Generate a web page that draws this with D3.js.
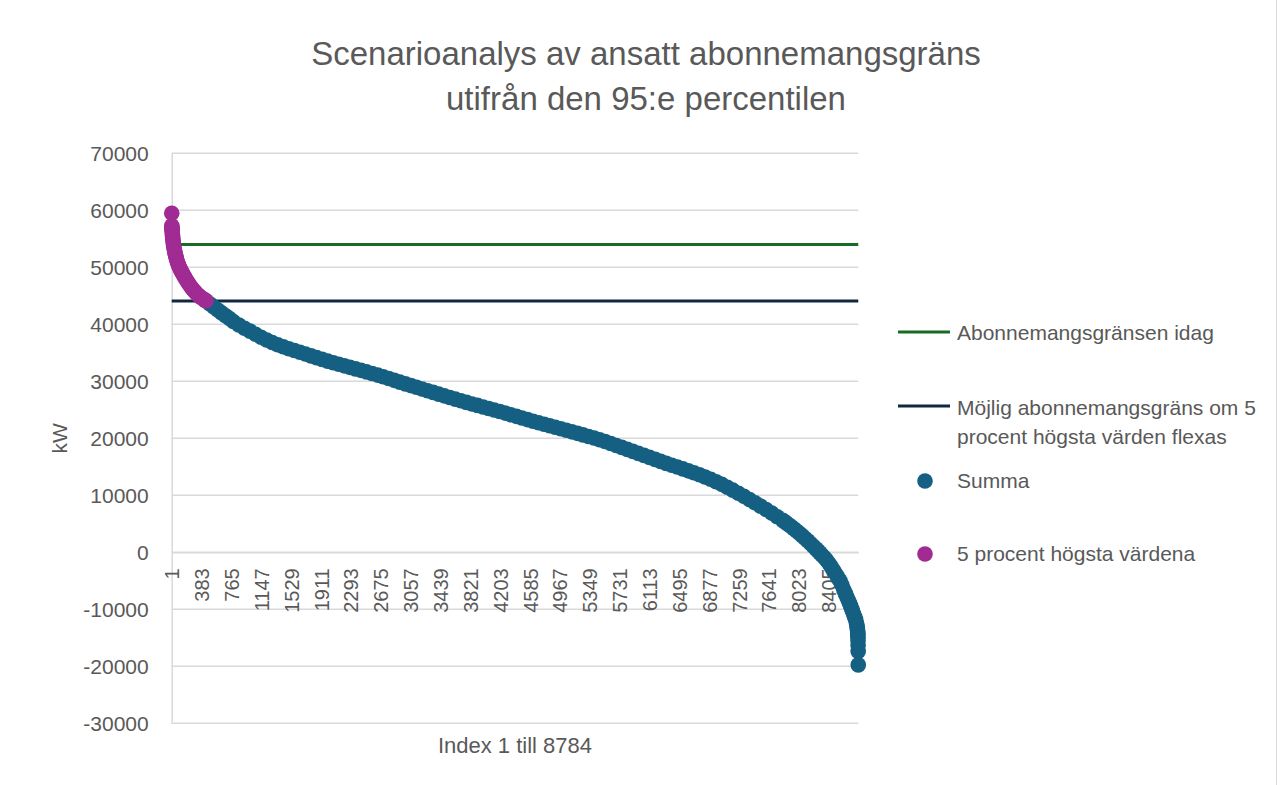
<!DOCTYPE html>
<html>
<head>
<meta charset="utf-8">
<script src="https://cdn.jsdelivr.net/npm/d3@7"></script>
<style>
  html, body { margin: 0; padding: 0; background: #ffffff; }
  svg { display: block; font-family: "Liberation Sans", Arial, sans-serif; }
</style>
</head>
<body>
<svg id="chart" width="1283" height="785"></svg>
<script>
// ---------- data ----------
const titleLines = ["Scenarioanalys av ansatt abonnemangsgräns", "utifrån den 95:e percentilen"];
const yTicks = [-30000, -20000, -10000, 0, 10000, 20000, 30000, 40000, 50000, 60000, 70000];
const xTickLabels = [1, 383, 765, 1147, 1529, 1911, 2293, 2675, 3057, 3439, 3821, 4203, 4585, 4967, 5349, 5731, 6113, 6495, 6877, 7259, 7641, 8023, 8405];
const nIndex = 8784;
const seriesNames = ["Abonnemangsgränsen idag", "Möjlig abonnemangsgräns om 5 procent högsta värden flexas", "Summa", "5 procent högsta värdena"];

// horizontal limit lines (kW)
const abonnemangIdag = 54000;
const mojligGrans = 44100;

// [index, kW] – the 5 % highest values
const hogsta5 = [
  [1,59470],[2,57300],[3,57000],[4,56800],[5,56600],[6,56400],[8,56000],[10,55650],[12,55350],[15,54950],
  [18,54600],[21,54250],[25,53850],[29,53500],[33,53200],[38,52850],[43,52500],[49,52150],[55,51800],[62,51450],
  [70,51050],[78,50750],[87,50400],[96,50100],[106,49800],[117,49500],[128,49200],[140,48900],[153,48550],[167,48250],
  [182,47900],[198,47550],[215,47200],[233,46800],[252,46450],[272,46100],[293,45800],[315,45450],[338,45150],[362,44850],
  [387,44600],[413,44350],[439,44150]
];

// [index, kW] – Summa (remaining sorted load curve)
const summa = [
  [440,44100],[490,43550],[540,43020],[590,42500],[640,42000],[690,41500],[740,41000],[789,40500],[860,39870],[931,39300],
  [1002,38800],[1073,38250],[1144,37730],[1215,37250],[1286,36810],[1357,36410],[1428,36050],[1499,35720],[1570,35400],[1641,35100],
  [1712,34780],[1783,34460],[1854,34150],[1925,33840],[1996,33540],[2067,33250],[2138,32980],[2209,32710],[2280,32450],[2351,32180],
  [2422,31920],[2493,31650],[2564,31370],[2635,31090],[2706,30800],[2777,30480],[2848,30170],[2919,29850],[2990,29550],[3061,29250],
  [3132,28950],[3203,28650],[3274,28350],[3345,28050],[3416,27750],[3487,27450],[3558,27150],[3629,26870],[3700,26580],[3771,26300],
  [3842,26030],[3913,25770],[3984,25500],[4055,25230],[4126,24970],[4197,24700],[4268,24420],[4339,24130],[4410,23850],[4481,23570],
  [4552,23280],[4623,23000],[4694,22730],[4765,22470],[4836,22200],[4907,21930],[4978,21670],[5049,21400],[5120,21130],[5191,20870],
  [5262,20600],[5333,20320],[5404,20040],[5475,19750],[5546,19430],[5617,19100],[5688,18750],[5759,18400],[5830,18050],[5901,17700],
  [5972,17350],[6043,17000],[6114,16650],[6185,16300],[6256,15950],[6327,15600],[6398,15280],[6469,14960],[6540,14630],[6611,14290],
  [6682,13950],[6753,13600],[6824,13220],[6895,12820],[6966,12380],[7037,11920],[7108,11420],[7179,10900],[7250,10370],[7321,9820],
  [7392,9250],[7463,8680],[7534,8100],[7605,7500],[7676,6880],[7747,6250],[7818,5600],[7854,5250],[7889,4880],[7925,4510],
  [7960,4130],[7996,3750],[8031,3350],[8067,2920],[8102,2470],[8138,2020],[8173,1550],[8209,1080],[8244,600],[8268,260],
  [8293,-100],[8320,-500],[8350,-930],[8379,-1400],[8410,-1980],[8440,-2600],[8470,-3250],[8500,-3900],[8525,-4450],[8550,-5000],
  [8575,-5750],[8600,-6600],[8620,-7250],[8640,-7900],[8656,-8400],[8672,-8900],[8686,-9400],[8700,-9900],[8712,-10350],[8725,-10850],
  [8738,-11330],[8750,-11800],[8760,-12400],[8766,-12750],[8770,-13100],[8773,-13400],[8775,-13700],[8777,-14000],[8778,-14300],[8779,-14600],
  [8780,-14900],[8781,-15500],[8782,-16300],[8783,-17400],[8784,-19750]
];

// ---------- styles ----------
const colGreen = "#196B24", colNavy = "#0E2841", colBlue = "#156082", colPurple = "#A02B93";
const textCol = "#595959", gridCol = "#d9d9d9";
const markerR = 7.8;

// ---------- layout ----------
const plot = { left: 171.7, right: 858.3, top: 153.3, bottom: 723.3 };
const svg = d3.select("#chart");

const x = d3.scaleLinear().domain([0.5, nIndex + 0.5]).range([plot.left, plot.right]);
const y = d3.scaleLinear().domain([-30000, 70000]).range([plot.bottom, plot.top]);

// chart-area border at right
svg.append("line").attr("x1", 1276.5).attr("x2", 1276.5).attr("y1", 0).attr("y2", 785)
  .attr("stroke", gridCol).attr("stroke-width", 1);

// title
svg.append("g").selectAll("text").data(titleLines).join("text")
  .attr("x", 646).attr("y", (d, i) => 53 + i * 45).attr("dy", "0.35em")
  .attr("text-anchor", "middle").attr("fill", textCol)
  .style("font-size", "33px").text(d => d);

// gridlines
svg.append("g").selectAll("line").data(yTicks).join("line")
  .attr("x1", plot.left).attr("x2", plot.right)
  .attr("y1", d => y(d)).attr("y2", d => y(d))
  .attr("stroke", gridCol).attr("stroke-width", 1.5);

// y axis
const yAxis = svg.append("g").attr("transform", `translate(${plot.left},0)`)
  .call(d3.axisLeft(y).tickValues(yTicks).tickSize(0).tickPadding(23).tickFormat(d => String(d)));
yAxis.select(".domain").attr("stroke", gridCol).attr("stroke-width", 1.5);
yAxis.selectAll("text").attr("fill", textCol).style("font-size", "21px")
  .style("font-family", "'Liberation Sans', Arial, sans-serif");

// x axis at zero
const xAxis = svg.append("g").attr("transform", `translate(0,${y(0)})`)
  .call(d3.axisBottom(x).tickValues(xTickLabels).tickSize(0).tickFormat(d => String(d)));
xAxis.select(".domain").attr("stroke", gridCol).attr("stroke-width", 1.5);
xAxis.selectAll("text")
  .attr("transform", "rotate(-90)")
  .attr("x", -16).attr("y", 0).attr("dy", "0.35em")
  .attr("text-anchor", "end")
  .attr("fill", textCol).style("font-size", "20px")
  .style("font-family", "'Liberation Sans', Arial, sans-serif");

// axis titles
svg.append("text").attr("x", (plot.left + plot.right) / 2).attr("y", 745).attr("dy", "0.35em")
  .attr("text-anchor", "middle").attr("fill", textCol).style("font-size", "22px").text("Index 1 till 8784");
svg.append("text").attr("transform", `translate(60,${(plot.top + plot.bottom) / 2}) rotate(-90)`)
  .attr("dy", "0.35em").attr("text-anchor", "middle").attr("fill", textCol)
  .style("font-size", "21px").text("kW");

// limit lines
const lineGen = d3.line().x(d => x(d[0])).y(d => y(d[1]));
svg.append("path").datum([[1, abonnemangIdag], [nIndex, abonnemangIdag]])
  .attr("d", lineGen).attr("stroke", colGreen).attr("stroke-width", 3).attr("fill", "none");
svg.append("path").datum([[1, mojligGrans], [nIndex, mojligGrans]])
  .attr("d", lineGen).attr("stroke", colNavy).attr("stroke-width", 3).attr("fill", "none");

// scatter series
svg.append("g").selectAll("circle").data(summa).join("circle")
  .attr("cx", d => x(d[0])).attr("cy", d => y(d[1])).attr("r", markerR).attr("fill", colBlue);
svg.append("g").selectAll("circle").data(hogsta5).join("circle")
  .attr("cx", d => x(d[0])).attr("cy", d => y(d[1])).attr("r", markerR).attr("fill", colPurple);

// legend
const lg = svg.append("g").style("font-size", "21px").attr("fill", textCol);
lg.append("line").attr("x1", 898).attr("x2", 950).attr("y1", 332).attr("y2", 332)
  .attr("stroke", colGreen).attr("stroke-width", 3);
lg.append("text").attr("x", 957).attr("y", 333).attr("dy", "0.35em").text(seriesNames[0]);
lg.append("line").attr("x1", 898).attr("x2", 950).attr("y1", 406).attr("y2", 406)
  .attr("stroke", colNavy).attr("stroke-width", 3);
lg.append("text").attr("x", 957).attr("y", 408).attr("dy", "0.35em").text("Möjlig abonnemangsgräns om 5");
lg.append("text").attr("x", 957).attr("y", 437).attr("dy", "0.35em").text("procent högsta värden flexas");
lg.append("circle").attr("cx", 925).attr("cy", 481).attr("r", markerR).attr("fill", colBlue);
lg.append("text").attr("x", 957).attr("y", 481).attr("dy", "0.35em").text(seriesNames[2]);
lg.append("circle").attr("cx", 925).attr("cy", 554).attr("r", markerR).attr("fill", colPurple);
lg.append("text").attr("x", 957).attr("y", 554).attr("dy", "0.35em").text(seriesNames[3]);
</script>
</body>
</html>
